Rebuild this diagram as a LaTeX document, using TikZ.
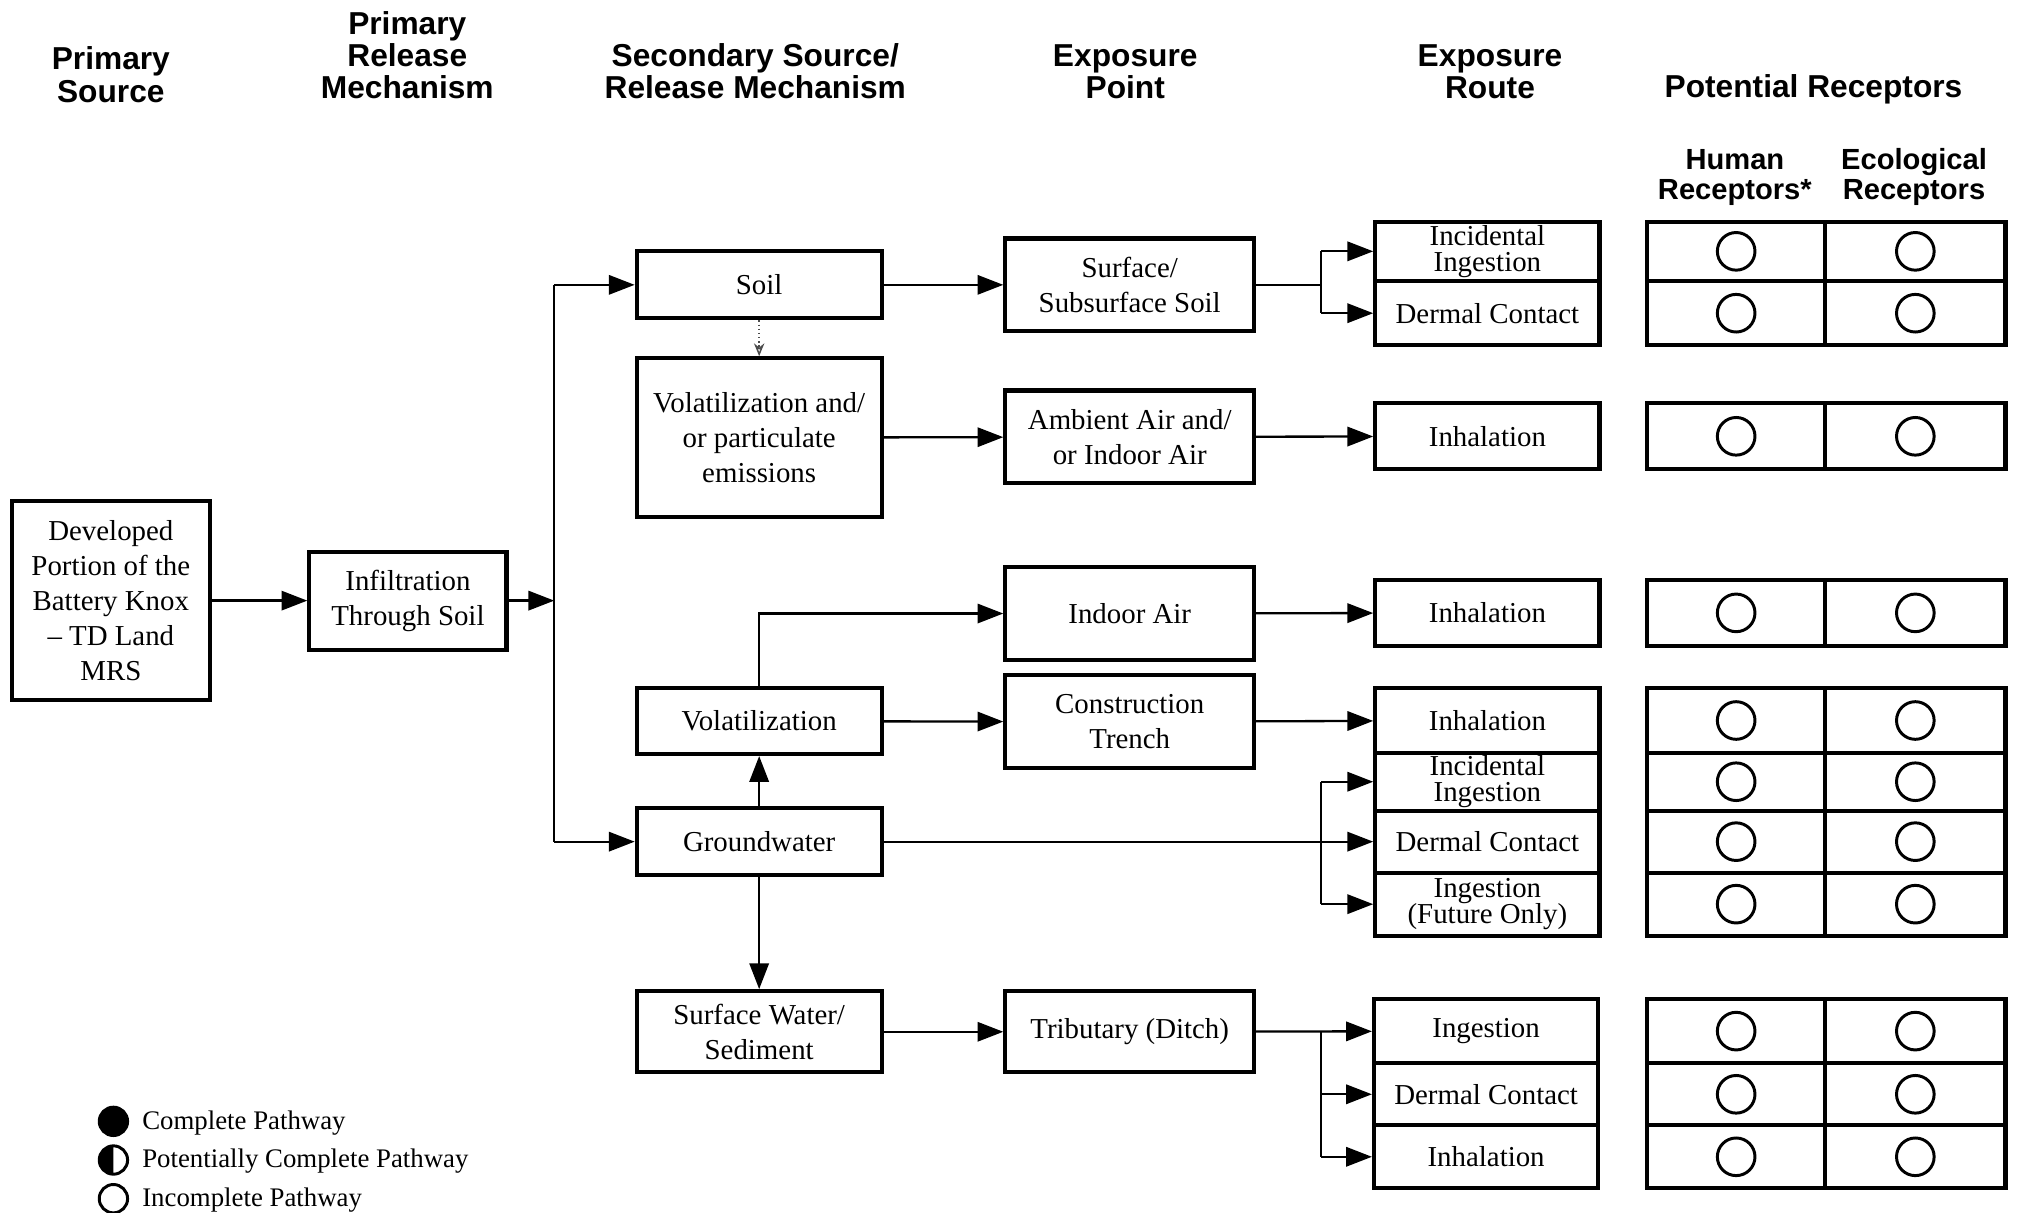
\documentclass[tikz,border=0pt]{standalone}
\usepackage{fontspec}
\setmainfont{Liberation Serif}
\newfontfamily\headfont{Liberation Sans}
\usetikzlibrary{arrows.meta,calc}

\begin{document}
\begin{tikzpicture}[x=0.5pt,y=-0.5pt]
\tikzstyle{box}=[draw,line width=1.6pt,align=center,inner sep=1pt,font=\fontsize{11.2}{13.6}\selectfont]
\tikzstyle{route}=[box,minimum width=87pt,font=\fontsize{11.2}{10.2}\selectfont]
\tikzstyle{cell}=[draw,line width=1.6pt,inner sep=0pt]
\tikzstyle{pathway}=[draw,circle,line width=1.15pt,minimum size=14.6pt,inner sep=0pt,outer sep=0pt]
\tikzstyle{head}=[align=center,font=\headfont\bfseries\fontsize{12.3}{12.5}\selectfont]
\tikzstyle{subhead}=[align=center,font=\headfont\bfseries\fontsize{11.3}{11.6}\selectfont]
\tikzstyle{line}=[line width=0.9pt]
\tikzstyle{arr}=[line,-{Triangle[length=10pt,width=7.5pt]}]

\useasboundingbox (0,0) rectangle (1568,941);

\node[head] (hsrc) at (86,58) {Primary\\Source};
\node[head] (hrel) at (316,43) {Primary\\Release\\Mechanism};
\node[head] (hsec) at (586,55.5) {Secondary Source/\\Release Mechanism};
\node[head] (hpt) at (873,55.5) {Exposure\\Point};
\node[head] (hrt) at (1156,55.5) {Exposure\\Route};
\node[head] (hrec) at (1407,69) {Potential Receptors};
\node[subhead] (hhum) at (1346,137.5) {Human\\Receptors*};
\node[subhead] (heco) at (1485,137.5) {Ecological\\Receptors};

\node[box,minimum width=77pt,minimum height=77pt] (src) at (86,466) {Developed\\Portion of the\\Battery Knox\\– TD Land\\MRS};
\node[box,minimum width=76.5pt,minimum height=38pt] (infil) at (316.5,466) {Infiltration\\Through Soil};

\node[box,minimum width=95pt,minimum height=26pt] (soil) at (589,221) {Soil};
\node[box,minimum width=95pt,minimum height=61.5pt] (volpart) at (589,339.5) {Volatilization and/\\or particulate\\emissions};
\node[box,minimum width=95pt,minimum height=25.5pt] (vol) at (589,559.5) {Volatilization};
\node[box,minimum width=95pt,minimum height=26pt] (gw) at (589,653) {Groundwater};
\node[box,minimum width=95pt,minimum height=31.5pt] (sw) at (589,800.5) {Surface Water/\\Sediment};

\node[box,minimum width=96.5pt,minimum height=36pt] (surf) at (876.5,221) {Surface/\\Subsurface Soil};
\node[box,minimum width=96.5pt,minimum height=36pt] (amb) at (876.5,339) {Ambient Air and/\\or Indoor Air};
\node[box,minimum width=96.5pt,minimum height=36pt] (indoor) at (876.5,476) {Indoor Air};
\node[box,minimum width=96.5pt,minimum height=36pt] (trench) at (876.5,560) {Construction\\Trench};
\node[box,minimum width=96.5pt,minimum height=31.5pt] (trib) at (876.5,800.5) {Tributary (Ditch)};

\node[route,minimum height=23pt] (r1a) at (1154,195) {Incidental\\Ingestion};
\node[route,minimum height=25pt] (r1b) at (1154,243) {Dermal Contact};
\node[route,minimum height=25.5pt] (r2) at (1154,338.5) {Inhalation};
\node[route,minimum height=25.5pt] (r3) at (1154,475.5) {Inhalation};
\node[route,minimum height=25pt] (r4a) at (1154,559) {Inhalation};
\node[route,minimum height=22.5pt] (r4b) at (1154,606.5) {Incidental\\Ingestion};
\node[route,minimum height=24pt] (r4c) at (1154,653) {Dermal Contact};
\node[route,minimum height=24.5pt] (r4d) at (1154,701.5) {Ingestion\\(Future Only)};
\node[route,minimum height=25pt] (r5a) at (1153,800) {Ingestion};
\node[route,minimum height=24pt] (r5b) at (1153,849) {Dermal Contact};
\node[route,minimum height=24.5pt] (r5c) at (1153,897.5) {Inhalation};

\foreach \r/\y/\h in {r1a/195/23,r1b/243/25,r2/338.5/25.5,r3/475.5/25.5,r4a/559/25,r4b/606.5/22.5,r4c/653/24,r4d/701.5/24.5,r5a/800/25,r5b/849/24,r5c/897.5/24.5}{
  \node[cell,minimum width=69pt,minimum height=\h pt] (\r-hum) at (1347,\y) {};
  \node[cell,minimum width=70pt,minimum height=\h pt] (\r-eco) at (1486,\y) {};
  \node[pathway] (\r-humc) at (\r-hum) {};
  \node[pathway] (\r-ecoc) at (\r-eco) {};
}

\coordinate (split) at (430,466);
\coordinate (b1) at (1025,221);
\coordinate (b4) at (1025,653);
\coordinate (b5) at (1025,800);

\path[arr]
    (src) edge (infil)
    (infil) edge (split)
    (split |- soil) edge (soil)
    (split |- gw) edge (gw)
    (soil) edge (surf)
    (volpart) edge (amb)
    (amb) edge (r2)
    (vol) edge (trench)
    (indoor) edge (r3)
    (trench) edge (r4a)
    (gw) edge (vol)
    (gw) edge (sw)
    (gw) edge (r4c)
    (sw) edge (trib)
    (trib) edge (r5a);

\draw[line] (split |- soil) -- (split |- gw);
\draw[arr] (vol.north) |- (indoor);
\draw[densely dotted,black!70,line width=0.6pt,-{Stealth[open,length=5pt,width=4pt]}] (soil) -- (volpart);

\draw[line] (surf) -- (b1);
\draw[line] (b1 |- r1a) -- (b1 |- r1b);
\draw[arr] (b1 |- r1a) -- (r1a);
\draw[arr] (b1 |- r1b) -- (r1b);

\draw[line] (b4 |- r4b) -- (b4 |- r4d);
\draw[arr] (b4 |- r4b) -- (r4b);
\draw[arr] (b4 |- r4d) -- (r4d);

\draw[line] (b5) -- (b5 |- r5c);
\draw[arr] (b5 |- r5b) -- (r5b);
\draw[arr] (b5 |- r5c) -- (r5c);

\node[pathway,fill=black,minimum size=11pt] (lg1) at (88,870) {};
\node[pathway,minimum size=11pt] (lg2) at (88,900) {};
\node[pathway,minimum size=11pt] (lg3) at (88,930) {};
\fill (lg2.north) arc[start angle=90,end angle=270,radius=5.5pt] -- cycle;
\node[anchor=west,font=\fontsize{10.4}{12}\selectfont,inner sep=0pt] (lt1) at (110,871) {Complete Pathway};
\node[anchor=west,font=\fontsize{10.4}{12}\selectfont,inner sep=0pt] (lt2) at (110,901) {Potentially Complete Pathway};
\node[anchor=west,font=\fontsize{10.4}{12}\selectfont,inner sep=0pt] (lt3) at (110,931) {Incomplete Pathway};

\end{tikzpicture}
\end{document}
